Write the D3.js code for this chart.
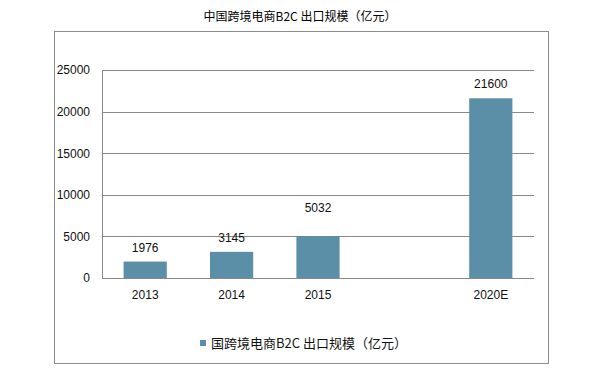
<!DOCTYPE html>
<html><head><meta charset="utf-8">
<script src="https://cdn.jsdelivr.net/npm/d3@7/dist/d3.min.js"></script>
<style>body{margin:0;background:#fff}</style>
</head><body>
<svg id="c" width="599" height="369"></svg>
<script>
const title = "中国跨境电商B2C 出口规模（亿元）";
const legendLabel = "国跨境电商B2C 出口规模（亿元）";
const categories = ["2013", "2014", "2015", "", "2020E"];
const values = [1976, 3145, 5032, null, 21600];
const yTicks = [0, 5000, 10000, 15000, 20000, 25000];

const svg = d3.select("#c");
const font = "'Liberation Sans', Arial, sans-serif";
const cjk = "'Noto Sans CJK SC', sans-serif";
const barColor = "#5b8fa8";

svg.append("rect").attr("x", 54.5).attr("y", 31.5).attr("width", 494).attr("height", 332)
  .attr("fill", "none").attr("stroke", "#8c8c8c").attr("stroke-width", 1);

svg.append("text").attr("x", 300).attr("y", 21).attr("text-anchor", "middle")
  .attr("font-family", cjk).attr("font-size", 12).attr("fill", "#000").text(title);

const x = d3.scaleBand().domain(d3.range(categories.length)).range([102, 534]).paddingInner(0.5).paddingOuter(0.25);
const y = d3.scaleLinear().domain([0, 25000]).range([278, 70]);

const g = svg.append("g");
g.selectAll("line.grid").data(yTicks).join("line")
  .attr("x1", 102).attr("x2", 534)
  .attr("y1", d => Math.round(y(d)) + 0.5).attr("y2", d => Math.round(y(d)) + 0.5)
  .attr("stroke", "#8a8a8a").attr("stroke-width", 1);
g.append("line").attr("x1", 102.5).attr("x2", 102.5).attr("y1", y(25000)).attr("y2", y(0))
  .attr("stroke", "#8a8a8a");

const yAxis = d3.axisLeft(y).tickValues(yTicks).tickSize(0).tickPadding(12).tickFormat(d3.format("d"));
const ya = svg.append("g").attr("transform", "translate(102,0)").call(yAxis);
ya.select(".domain").remove();
ya.selectAll("text").attr("font-family", font).attr("font-size", 12).attr("fill", "#111");

const xAxis = d3.axisBottom(x).tickSize(0).tickPadding(12).tickFormat(i => categories[i]);
const xa = svg.append("g").attr("transform", "translate(0,278)").call(xAxis);
xa.select(".domain").remove();
xa.selectAll("text").attr("font-family", font).attr("font-size", 12).attr("fill", "#111");

const data = values.map((v, i) => ({i, v})).filter(d => d.v != null);
svg.selectAll("rect.bar").data(data).join("rect")
  .attr("x", d => x(d.i)).attr("width", x.bandwidth())
  .attr("y", d => y(d.v)).attr("height", d => y(0) - y(d.v))
  .attr("fill", barColor);

function labelY(v) {
  const top = y(v);
  const nearGrid = yTicks.some(t => t > 0 && Math.abs(y(t) - top) < 4);
  return top - (nearGrid ? 24 : 10);
}
svg.selectAll("text.lbl").data(data).join("text")
  .attr("x", d => x(d.i) + x.bandwidth() / 2).attr("y", d => labelY(d.v))
  .attr("text-anchor", "middle").attr("font-family", font).attr("font-size", 12).attr("fill", "#111")
  .text(d => d.v);

svg.append("rect").attr("x", 200).attr("y", 340).attr("width", 6).attr("height", 6).attr("fill", barColor);
svg.append("text").attr("x", 211).attr("y", 348).attr("font-family", cjk).attr("font-size", 13)
  .attr("fill", "#111").text(legendLabel);
</script>
</body></html>
